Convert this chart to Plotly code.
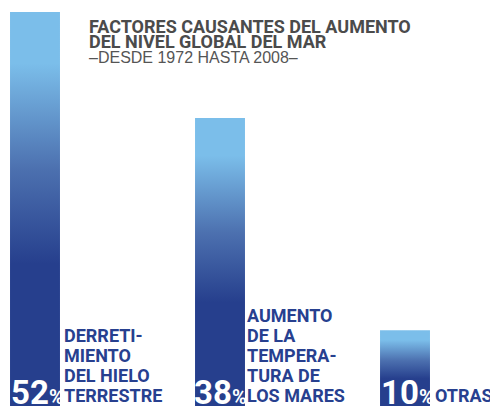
import plotly.graph_objects as go

# ---- data ----
values = [52, 38, 10]
pct_labels = ["52", "38", "10"]
cat_labels = [
    ["DERRETI-", "MIENTO", "DEL HIELO", "TERRESTRE"],
    ["AUMENTO", "DE LA", "TEMPERA-", "TURA DE", "LOS MARES"],
    ["OTRAS"],
]
title_lines = ["FACTORES CAUSANTES DEL AUMENTO", "DEL NIVEL GLOBAL DEL MAR"]
subtitle = "\u2013DESDE 1972 HASTA 2008\u2013"

# ---- style ----
W, H = 490, 406
DARK = "#263F8D"
LIGHT = "#7BBEEA"
MID = "#4C70AF"
TEXT_BLUE = "#27408F"
GRAY = "#4B4B4B"
COND = "Roboto, Liberation Sans Narrow, sans-serif"
bar_w = 0.27
xs = list(range(len(values)))

fig = go.Figure()
for i, v in zip(xs, values):
    x0, x1 = i - bar_w / 2, i + bar_w / 2
    fig.add_trace(go.Scatter(
        x=[x0, x0, x1, x1, x0], y=[0, v, v, 0, 0],
        mode="none", fill="toself",
        fillgradient=dict(type="vertical", start=0, stop=v,
                          colorscale=[[0, DARK], [0.36, DARK], [0.6, MID],
                                      [0.87, LIGHT], [1, LIGHT]]),
        hoverinfo="skip", showlegend=False,
    ))

def py(px):
    return 1 - px / H

def px_x(px):
    return px / W

ann = []
# title
for txt, cy in zip(title_lines, [26, 42]):
    ann.append(dict(text="<b>" + txt + "</b>", x=px_x(87), y=py(cy), xref="paper", yref="paper",
                    xanchor="left", yanchor="middle", showarrow=False,
                    font=dict(family=COND, size=18, color=GRAY)))
ann.append(dict(text=subtitle, x=px_x(87), y=py(58), xref="paper", yref="paper",
                xanchor="left", yanchor="middle", showarrow=False,
                font=dict(family="Liberation Sans, Arial, sans-serif", size=16, color="#555555")))

# percentages (white, inside bars at bottom)
pct_x = [10, 193, 380]
for txt, xp in zip(pct_labels, pct_x):
    ann.append(dict(text="<b>" + txt + "</b><b><span style='font-size:20px'>%</span></b>",
                    x=px_x(xp - 1), y=py(392), xref="paper", yref="paper",
                    xanchor="left", yanchor="middle", showarrow=False,
                    font=dict(family=COND, size=33, color="white")))

# category labels
lab_x = [62, 245, 433]
for lines, xp in zip(cat_labels, lab_x):
    n = len(lines)
    for k, t in enumerate(lines):
        cy = 395 - (n - 1 - k) * 20
        ann.append(dict(text="<b>" + t + "</b>", x=px_x(xp), y=py(cy), xref="paper", yref="paper",
                        xanchor="left", yanchor="middle", showarrow=False,
                        font=dict(family=COND, size=18, color=TEXT_BLUE)))

px_per_unit = 394 / 52
fig.update_layout(
    width=W, height=H,
    margin=dict(l=0, r=0, t=0, b=0),
    paper_bgcolor="white", plot_bgcolor="white",
    xaxis=dict(range=[-35 / 185, (W - 35) / 185], visible=False, fixedrange=True),
    yaxis=dict(range=[0, H / px_per_unit], visible=False, fixedrange=True),
    annotations=ann,
    showlegend=False,
)
fig.write_html("out.html",
               config={"displayModeBar": False},
               post_script="document.body.style.margin='0';document.body.style.overflow='hidden';")
